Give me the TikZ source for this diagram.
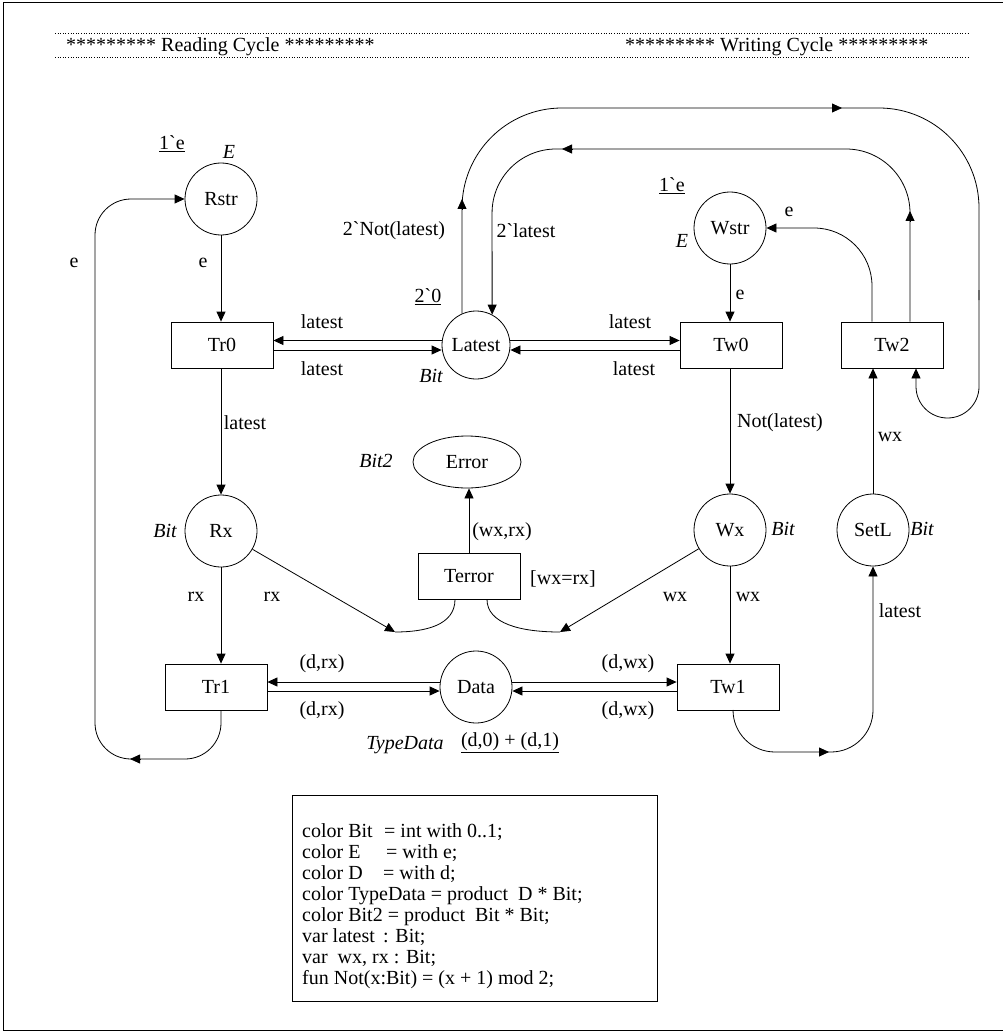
\documentclass[tikz,border=0pt]{standalone}
\usepackage{fontspec}
\setmainfont{Liberation Serif}
\newfontfamily\rawfont{Liberation Serif}[Ligatures=TeXOff]
\usetikzlibrary{arrows.meta,shapes.geometric}
\newcommand\bq{{\rawfont\char"60\relax}}
\begin{document}
\begin{tikzpicture}[x=1pt,y=-1pt,
  every node/.style={font=\fontsize{20}{23}\selectfont, inner sep=0pt},
  place/.style={draw, circle, minimum size=72pt, line width=0.8pt},
  lplace/.style={draw, circle, minimum size=68pt, line width=0.8pt},
  trans/.style={draw, rectangle, minimum width=102pt, minimum height=46pt, line width=0.8pt},
  arc/.style={line width=0.8pt, -{Triangle[length=10pt,width=9pt]}},
  plain/.style={line width=0.8pt},
  typ/.style={font=\fontsize{20}{23}\selectfont\itshape},
  decl/.style={anchor=base west},
]
\useasboundingbox (0,0) rectangle (1002,1032);
% frame
\draw[line width=1pt] (1010,3) -- (3,3) -- (3,1030) -- (1010,1030);
% header
\draw[line width=0.9pt, dash pattern=on 1pt off 1.6pt] (55,33) -- (968,33);
\draw[line width=0.9pt, dash pattern=on 1pt off 1.6pt] (55,57) -- (968,57);
\node[anchor=base west] (hread) at (66,52) {********* Reading Cycle *********};
\node[anchor=base west] (hwrite) at (625,52) {********* Writing Cycle *********};

% places
\node[place] (Rstr) at (221,199) {Rstr};
\node[lplace] (Lat) at (476,345) {Latest};
\node[place] (Wstr) at (730,228) {Wstr};
\node[place] (Rx) at (221,531) {Rx};
\node[place] (Wx) at (730,530) {Wx};
\node[place] (SetL) at (873,530) {SetL};
\node[place] (Data) at (476,687) {Data};
\node[draw, ellipse, minimum width=108pt, minimum height=52pt, line width=0.8pt] (Err) at (467,462) {Error};
% transitions
\node[trans] (Tr0) at (222,345) {Tr0};
\node[trans] (Tw0) at (731,345) {Tw0};
\node[trans] (Tw2) at (892,345) {Tw2};
\node[trans] (Terror) at (469,576) {Terror};
\node[trans] (Tr1) at (216,687) {Tr1};
\node[trans] (Tw1) at (728,687) {Tw1};

% routing coordinates
\coordinate (J1) at (395,632);
\coordinate (J2) at (560,632);
\coordinate (LB) at (95,759);
\coordinate (t1) at (733,752);
\coordinate (RB) at (873,752);
\coordinate (w1) at (872,228);
\coordinate (i1) at (910,149);
\coordinate (i2) at (492,149);
\coordinate (o1) at (462,108);
\coordinate (o2) at (979,108);
\coordinate (o5) at (979,300);
\coordinate (o3) at (979,418);
\coordinate (o4) at (916,418);

% arcs
\draw[arc] (Rstr.south) -- (Rstr.south |- Tr0.north);
\draw[arc] ([yshift=4.5pt]Lat.west) -- ([yshift=4.5pt]Tr0.east);
\draw[arc] ([yshift=-5pt]Tr0.east) -- ([yshift=-5pt]Lat.west);
\draw[arc] ([yshift=4.5pt]Lat.east) -- ([yshift=4.5pt]Tw0.west);
\draw[arc] ([yshift=-5pt]Tw0.west) -- ([yshift=-5pt]Lat.east);
\draw[arc] (Wstr.south) -- (Wstr.south |- Tw0.north);
\draw[arc] (Tr0.south -| Rx.north) -- (Rx.north);
\draw[arc] (Tw0.south -| Wx.north) -- (Wx.north);
\draw[arc] (Rx.south) -- (Rx.south |- Tr1.north);
\draw[arc] (Wx.south) -- (Wx.south |- Tw1.north);
\draw[arc] ([yshift=5pt]Data.west) -- ([yshift=5pt]Tr1.east);
\draw[arc] ([yshift=-4pt]Tr1.east) -- ([yshift=-4pt]Data.west);
\draw[arc] ([yshift=5pt]Data.east) -- ([yshift=5pt]Tw1.west);
\draw[arc] ([yshift=-4pt]Tw1.west) -- ([yshift=-4pt]Data.east);
\draw[arc] (Terror.north) -- (Terror.north |- Err.south);
\draw[arc] (Rx) -- (J1);
\draw[plain] ([xshift=-14pt]Terror.south) .. controls ([xshift=-14pt,yshift=-26pt]Terror.south) and (425,632) .. (J1);
\draw[arc] (Wx) -- (J2);
\draw[plain] ([xshift=18pt]Terror.south) .. controls ([xshift=18pt,yshift=-24pt]Terror.south) and (520,632) .. (J2);
\draw[arc] (SetL.north) -- (SetL.north |- Tw2.south);
\draw[arc, rounded corners=58pt] (Tw2.north -| w1) -- (w1) -- (Wstr.east);
\draw[arc, rounded corners=42pt] (Tw1.south -| t1) -- (t1) -- (RB) -- (SetL.south);
\draw[arc] (820,752) -- (829,752);
\draw[arc, rounded corners=36pt] (Tr1.south -| Rx.south) -- (Rx.south |- LB) -- (LB) -- (LB |- Rstr.west) -- (Rstr.west);
\draw[arc] (140,759) -- (130,759);
% inner loop Tw2 -> Latest
\draw[arc, rounded corners=64pt] (Tw2.north -| i1) -- (i1) -- (i2) -- (Lat.62);
\draw[arc] (910,222) -- (910,211);
\draw[arc] (572,149) -- (562,149);
% outer loop Latest -> Tw2
\draw[plain, rounded corners=100pt] (Lat.114) -- (o1) -- (o2) -- (o5);
\draw[arc] (462,210) -- (462,199);
\draw[arc] (832,108) -- (842,108);
\draw[arc, rounded corners=31.5pt] (979,290) -- (o3) -- (o4) -- (Tw2.south -| o4);

% labels
\node (l1e) at (172,144) {\underline{1\bq e}};
\node[typ] (lE1) at (229,152) {E};
\node (le1) at (203,263) {e};
\node (le0) at (74,263) {e};
\node (lnl) at (394,231) {2\bq Not(latest)};
\node (l2l) at (526,231) {2\bq latest};
\node (l20) at (428,297) {\underline{2\bq 0}};
\node[typ] (lBitL) at (431,376) {Bit};
\node (la1) at (322,322) {latest};
\node (la2) at (322,369) {latest};
\node (la3) at (630,322) {latest};
\node (la4) at (634,369) {latest};
\node (l1e2) at (672,186) {\underline{1\bq e}};
\node[typ] (lE2) at (682,241) {E};
\node (le2) at (789,212) {e};
\node (le3) at (740,295) {e};
\node (lnot) at (780,423) {Not(latest)};
\node (lwx1) at (890,437) {wx};
\node (llat2) at (245,423) {latest};
\node[typ] (lBit2) at (376,461) {Bit2};
\node (lwxrx) at (502,532) {(wx,rx)};
\node (lguard) at (563,579) {[wx=rx]};
\node[typ] (lBitRx) at (165,531) {Bit};
\node[typ] (lBitWx) at (783,529) {Bit};
\node[typ] (lBitS) at (922,529) {Bit};
\node (lrx1) at (196,597) {rx};
\node (lrx2) at (272,597) {rx};
\node (lwx2) at (675,597) {wx};
\node (lwx3) at (748,597) {wx};
\node (llat3) at (900,611) {latest};
\node (ldr1) at (322,664) {(d,rx)};
\node (ldr2) at (322,711) {(d,rx)};
\node (ldw1) at (628,664) {(d,wx)};
\node (ldw2) at (628,711) {(d,wx)};
\node[typ] (ltd) at (405,745) {TypeData};
\node (linit) at (510,743) {\underline{(d,0) + (d,1)}};

% declarations
\node[draw, line width=1.3pt, minimum width=365pt, minimum height=206pt, anchor=north west] (declbox) at (292,795) {};
\node[decl] (d1) at (302,837) {\makebox[82pt][l]{color Bit}= int with 0..1;};
\node[decl] (d2) at (302,858) {\makebox[84pt][l]{color E}= with e;};
\node[decl] (d3) at (302,879) {\makebox[81pt][l]{color D}= with d;};
\node[decl] (d4) at (302,900) {color TypeData = product\ \ D * Bit;};
\node[decl] (d5) at (302,921) {color Bit2 = product\ \ Bit * Bit;};
\node[decl] (d6) at (302,942) {\makebox[81pt][l]{var latest}: Bit;};
\node[decl] (d7) at (302,963) {var\ \ wx, rx : Bit;};
\node[decl] (d8) at (302,984) {fun Not(x:Bit) = (x + 1) mod 2;};
\end{tikzpicture}
\end{document}
